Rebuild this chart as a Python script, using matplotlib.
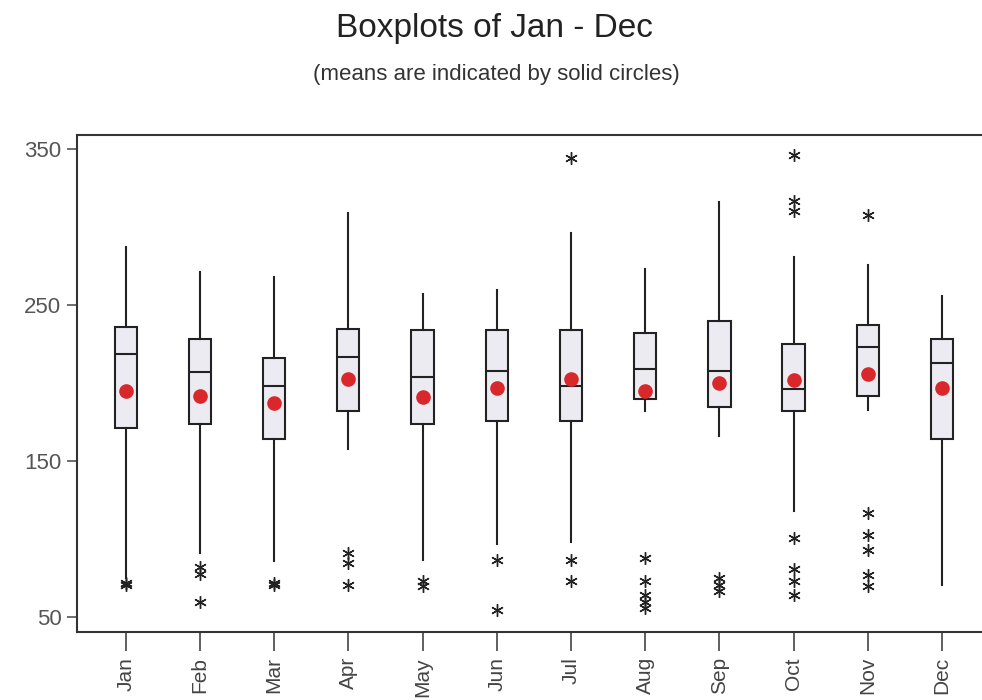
import numpy as np
import matplotlib
matplotlib.use("Agg")
import matplotlib.pyplot as plt

# valores
months = ["Jan", "Feb", "Mar", "Apr", "May", "Jun",
          "Jul", "Aug", "Sep", "Oct", "Nov", "Dec"]
whis_lo = [75, 91, 86, 158, 87, 97, 98, 182, 166, 118, 183, 71]
q1 = [171, 174, 164, 182, 174, 176, 176, 190, 185, 182, 192, 164]
med = [219, 207, 198, 217, 204, 208, 198, 209, 208, 196, 223, 213]
q3 = [236, 228, 216, 235, 234, 234, 234, 232, 240, 225, 237, 228]
whis_hi = [287, 271, 268, 309, 257, 260, 296, 273, 316, 281, 276, 256]
means = [195, 192, 187, 203, 191, 197, 203, 195, 200, 202, 206, 197]
outliers = [
    [72, 71],
    [82, 78, 60],
    [72, 71],
    [91, 85, 71],
    [73, 70],
    [87, 55],
    [344, 87, 73],
    [88, 73, 64, 60, 56],
    [75, 71, 67],
    [346, 317, 310, 101, 81, 73, 64],
    [308, 117, 103, 93, 77, 70],
    [],
]

stats = []
for i, m in enumerate(months):
    stats.append(dict(label=m, whislo=whis_lo[i], q1=q1[i], med=med[i],
                      q3=q3[i], whishi=whis_hi[i], mean=means[i],
                      fliers=outliers[i]))

plt.rcParams['font.family'] = ['Liberation Sans', 'DejaVu Sans']

fig = plt.figure(figsize=(9.82, 7.0), dpi=100)
ax = fig.add_axes([76.7 / 982, 1 - 632 / 700, (991 - 76.7) / 982, (632 - 135) / 700])

ax.bxp(stats, positions=np.arange(1, 13), widths=0.3, patch_artist=True,
       showmeans=True, showcaps=False,
       boxprops=dict(facecolor='#ebebf1', edgecolor='#222222', linewidth=1.5),
       medianprops=dict(color='#222222', linewidth=1.5),
       whiskerprops=dict(color='#222222', linewidth=1.5),
       meanprops=dict(marker='o', markerfacecolor='#d8282c',
                      markeredgecolor='#d8282c', markersize=9.5),
       flierprops=dict(marker=(6, 2, 0), markeredgecolor='#222222',
                       markersize=9, markeredgewidth=1.0))

ax.set_xlim(0.34, 12.66)
ax.set_ylim(40.6, 359)
ax.set_yticks([50, 150, 250, 350])
ax.set_xticks(np.arange(1, 13))
ax.set_xticklabels(months, rotation=90)

ax.tick_params(axis='y', length=7, width=1.2, colors='#555555', labelsize=16, pad=4)
ax.tick_params(axis='x', length=14, width=1.2, colors='#444444', labelsize=15, pad=4)
for s in ax.spines.values():
    s.set_color('#333333')
    s.set_linewidth(1.5)

fig.text(0.504, 0.96, "Boxplots of Jan - Dec", ha='center', va='center',
         fontsize=24, color='#222222')
fig.text(0.505, 0.894, "(means are indicated by solid circles)", ha='center',
         va='center', fontsize=16, color='#333333')

fig.savefig("out.png", dpi=100)
